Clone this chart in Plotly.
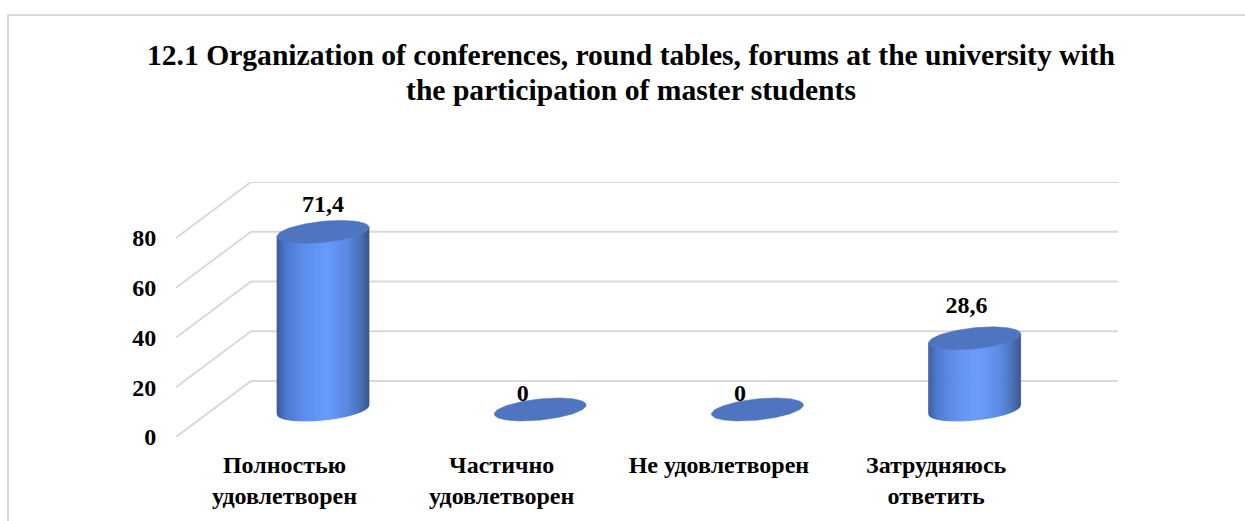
import numpy as np
import plotly.graph_objects as go

categories = ["Полностью<br>удовлетворен", "Частично<br>удовлетворен", "Не удовлетворен", "Затрудняюсь<br>ответить"]
values = [71.4, 0, 0, 28.6]
y_ticks = [0, 20, 40, 60, 80]
title_lines = ["12.1 Organization of conferences, round tables, forums at the university with",
               "the participation of master students"]

FONT = "Liberation Serif"
PX_X = 217.2
PX_Y = 2.4875
DEPTH_X = 75 / PX_X
DEPTH_Y = 56 / PX_Y
X0 = (176 - 284.5) / PX_X
X1 = (1118 - 284.5) / PX_X
BAR_DX = 38.5 / PX_X
BASE = 27.5 / PX_Y
A, B, K = 46.0, 10.6, 4.5
LABEL_SHIFT_X = [0, -17.5, -17.5, -8]
LABEL_SHIFT_Y = [26, 15, 15, 31]
STOPS = [(0.0, (60, 92, 155)), (0.1, (76, 120, 208)), (0.3, (94, 144, 238)), (0.55, (105, 156, 255)),
         (0.78, (90, 136, 226)), (0.92, (72, 110, 182)), (1.0, (56, 86, 146))]
TOP_COLOR = "#4f75c1"
GRID = "#d9d9d9"


def shade(f):
    fs = [s[0] for s in STOPS]
    return "rgb(%d,%d,%d)" % tuple(np.interp(f, fs, [s[1][c] for s in STOPS]) for c in range(3))


fig = go.Figure()
common = dict(showlegend=False, hoverinfo="skip")

for v in y_ticks:
    fig.add_trace(go.Scatter(x=[X0, X0 + DEPTH_X, X1], y=[v, v + DEPTH_Y, v + DEPTH_Y], mode="lines",
                             line=dict(color=GRID, width=2), cliponaxis=False, **common))

for i, v in enumerate(values):
    cx = i + BAR_DX
    if v > 0:
        n = 92
        edges = np.linspace(-A, A, n + 1)
        for j in range(n):
            u = np.linspace(edges[j], edges[j + 1], 3) / A
            low = -B * np.sqrt(np.clip(1 - u ** 2, 0, 1)) + K * u
            xs = cx + u * A / PX_X
            y_low = BASE + low / PX_Y
            y_high = y_low + v
            fig.add_trace(go.Scatter(
                x=np.r_[xs, xs[::-1], xs[0]], y=np.r_[y_low, y_high[::-1], y_low[0]],
                mode="lines", fill="toself", fillcolor=shade((j + 0.5) / n),
                line=dict(color=shade((j + 0.5) / n), width=0.7), **common))
    t = np.linspace(0, 2 * np.pi, 120)
    fig.add_trace(go.Scatter(
        x=cx + A * np.cos(t) / PX_X,
        y=BASE + v + (B * np.sin(t) + K * np.cos(t)) / PX_Y,
        mode="lines", fill="toself", fillcolor=TOP_COLOR, line=dict(color=TOP_COLOR, width=0.5), **common))

fig.add_trace(go.Scatter(
    x=[i + BAR_DX + LABEL_SHIFT_X[i] / PX_X for i in range(4)],
    y=[BASE + v + LABEL_SHIFT_Y[i] / PX_Y for i, v in enumerate(values)],
    text=[str(v).replace(".", ",") for v in values],
    mode="text", textposition="middle center",
    textfont=dict(family=FONT, size=24, color="#000000", weight="bold"), cliponaxis=False, **common))

title_text = "<br>".join('<span style="font-size:29.6px">' + s + "</span>" for s in title_lines)

fig.update_layout(
    width=1245, height=521,
    margin=dict(l=176, r=127, t=182, b=84),
    paper_bgcolor="white", plot_bgcolor="white",
    title=dict(text=title_text, x=631 / 1245, xref="container", xanchor="center",
               y=1 - 65 / 521, yref="container", yanchor="top",
               font=dict(family=FONT, size=27, color="#000000", weight="bold")),
    xaxis=dict(range=[X0, X1], tickmode="array", tickvals=list(range(4)), ticktext=categories,
               tickfont=dict(family=FONT, size=24, color="#000000", weight="bold"),
               showgrid=False, zeroline=False, showline=False, ticks="outside", ticklen=6,
               tickcolor="rgba(0,0,0,0)", tickangle=0, automargin=False),
    yaxis=dict(range=[0, (437 - 182) / PX_Y], tickmode="array", tickvals=y_ticks,
               tickfont=dict(family=FONT, size=24, color="#000000", weight="bold"),
               showgrid=False, zeroline=False, showline=False, ticks="outside", ticklen=14,
               tickcolor="rgba(0,0,0,0)", automargin=False),
    shapes=[dict(type="rect", xref="paper", yref="paper",
                 x0=(8 - 176) / 942, x1=(1300 - 176) / 942,
                 y0=(437 - 600) / 255, y1=(437 - 15) / 255,
                 line=dict(color=GRID, width=2), fillcolor="rgba(0,0,0,0)", layer="below")],
)

fig.write_html("out.html", config=dict(displayModeBar=False),
               post_script="document.body.style.margin='0';document.body.style.overflow='hidden';")
